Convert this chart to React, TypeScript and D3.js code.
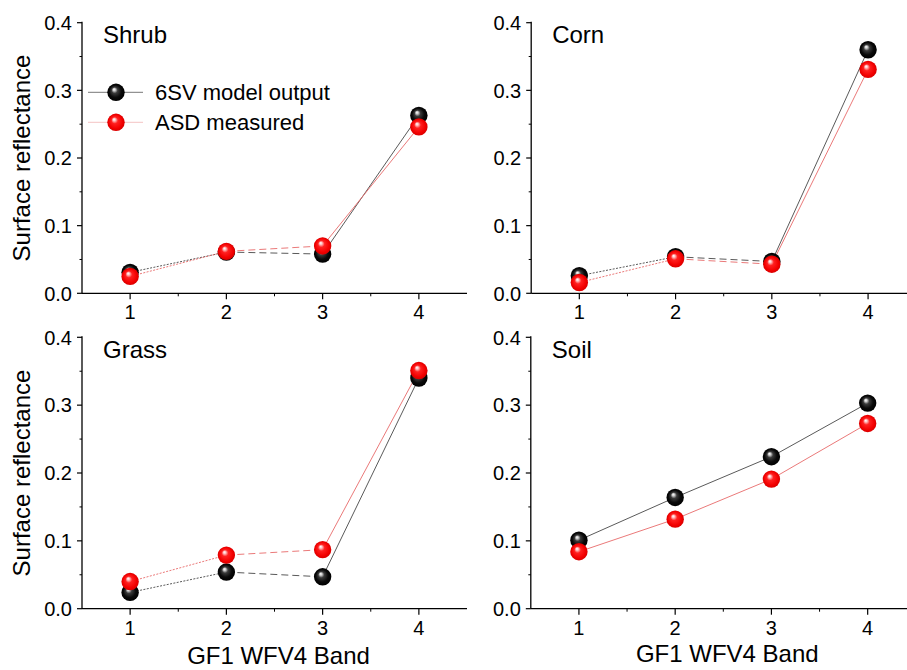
import React from "react";
import * as d3 from "d3";

// GF1 WFV4 band numbers
const bands = [1, 2, 3, 4];

// Surface reflectance per cover type: 6SV model output vs ASD field measurement
const shrubModel = [0.031, 0.061, 0.058, 0.263];
const shrubASD = [0.025, 0.062, 0.07, 0.246];
const cornModel = [0.026, 0.054, 0.047, 0.36];
const cornASD = [0.016, 0.051, 0.043, 0.331];
const grassModel = [0.024, 0.054, 0.047, 0.34];
const grassASD = [0.04, 0.079, 0.087, 0.351];
const soilModel = [0.101, 0.164, 0.224, 0.303];
const soilASD = [0.084, 0.132, 0.191, 0.273];

const yTicks = [0, 0.1, 0.2, 0.3, 0.4];
const yMinorTicks = [0.05, 0.15, 0.25, 0.35];
const xMinorTicks = [1.5, 2.5, 3.5];

const seriesNames = ["6SV model output", "ASD measured"];

type Panel = {
  title: string;
  model: number[];
  asd: number[];
  left: number;
  top: number;
  bottom: number;
  segStyles: string[];
  yTitle: boolean;
  xTitleBaseline: number | null;
  legend: boolean;
};

const FONT = "'Liberation Sans', Arial, Helvetica, sans-serif";
const BLACK_LINE = "#5a5a5a";
const RED_LINE = "#e86a6a";
const R = 8.7;
const UNIT = 96.25; // px per band step

const dashFor = (s: string) =>
  s === "dotted" ? "2,1.4" : s === "dashed" ? "7,4" : undefined;

const panels: Panel[] = [
  { title: "Shrub", model: shrubModel, asd: shrubASD, left: 82, top: 22.7, bottom: 293.3, segStyles: ["dotted", "dashed", "solid"], yTitle: true, xTitleBaseline: null, legend: true },
  { title: "Corn", model: cornModel, asd: cornASD, left: 531.2, top: 22.7, bottom: 293.3, segStyles: ["dotted", "dashed", "solid"], yTitle: false, xTitleBaseline: null, legend: false },
  { title: "Grass", model: grassModel, asd: grassASD, left: 82, top: 337.3, bottom: 608.7, segStyles: ["dotted", "dashed", "solid"], yTitle: true, xTitleBaseline: 664, legend: false },
  { title: "Soil", model: soilModel, asd: soilASD, left: 530.8, top: 337.3, bottom: 608.7, segStyles: ["solid", "solid", "solid"], yTitle: false, xTitleBaseline: 662, legend: false },
];

function Ball({ cx, cy, fill }: { cx: number; cy: number; fill: string }) {
  return <circle cx={cx} cy={cy} r={R} fill={`url(#${fill})`} />;
}

function PanelView({ p }: { p: Panel }) {
  const x = d3.scaleLinear().domain([0.5, 4.5]).range([p.left, p.left + 4 * UNIT]);
  const y = d3.scaleLinear().domain([0, 0.4]).range([p.bottom, p.top]);
  const line = d3
    .line<[number, number]>()
    .x((d) => x(d[0]))
    .y((d) => y(d[1]));

  const segs = (vals: number[], color: string, width: number) =>
    bands.slice(0, -1).map((b, i) => (
      <path
        key={i}
        d={line([
          [b, vals[i]],
          [bands[i + 1], vals[i + 1]],
        ]) as string}
        fill="none"
        stroke={color}
        strokeWidth={width}
        strokeDasharray={dashFor(p.segStyles[i])}
      />
    ));

  const x0 = x.range()[0];
  const x1 = x.range()[1];
  const midY = (p.top + p.bottom) / 2;

  return (
    <g>
      {/* axes */}
      <line x1={x0} x2={x0} y1={y(0.4) - 1} y2={y(0)} stroke="#000" strokeWidth={1.3} />
      <line x1={x0} x2={x1} y1={y(0)} y2={y(0)} stroke="#000" strokeWidth={1.3} />
      {yTicks.map((t) => (
        <g key={t}>
          <line x1={x0 - 5} x2={x0} y1={y(t)} y2={y(t)} stroke="#000" strokeWidth={1.2} />
          <text x={x0 - 10} y={y(t)} dy="0.36em" textAnchor="end" fontSize={20} fontFamily={FONT}>
            {d3.format(".1f")(t)}
          </text>
        </g>
      ))}
      {yMinorTicks.map((t) => (
        <line key={t} x1={x0 - 2.5} x2={x0} y1={y(t)} y2={y(t)} stroke="#000" strokeWidth={1} />
      ))}
      {bands.map((b) => (
        <g key={b}>
          <line x1={x(b)} x2={x(b)} y1={y(0)} y2={y(0) + 6} stroke="#000" strokeWidth={1.2} />
          <text x={x(b)} y={y(0) + 26} textAnchor="middle" fontSize={20} fontFamily={FONT}>
            {b}
          </text>
        </g>
      ))}
      {xMinorTicks.map((t) => (
        <line key={t} x1={x(t)} x2={x(t)} y1={y(0)} y2={y(0) + 3} stroke="#000" strokeWidth={1} />
      ))}

      {/* panel title */}
      <text x={p.left + 21} y={p.top + 20.5} fontSize={24} fontFamily={FONT}>
        {p.title}
      </text>

      {p.yTitle && (
        <text
          transform={`translate(29.5, ${midY}) rotate(-90)`}
          textAnchor="middle"
          fontSize={24}
          fontFamily={FONT}
        >
          Surface reflectance
        </text>
      )}
      {p.xTitleBaseline !== null && (
        <text x={(x0 + x1) / 2 + 4} y={p.xTitleBaseline} textAnchor="middle" fontSize={24} fontFamily={FONT}>
          GF1 WFV4 Band
        </text>
      )}

      {/* connecting lines */}
      {segs(p.model, BLACK_LINE, 1)}
      {segs(p.asd, RED_LINE, 0.9)}

      {/* markers */}
      {bands.map((b, i) => (
        <Ball key={"m" + b} cx={x(b)} cy={y(p.model[i])} fill="ballBlack" />
      ))}
      {bands.map((b, i) => (
        <Ball key={"a" + b} cx={x(b)} cy={y(p.asd[i])} fill="ballRed" />
      ))}

      {p.legend && (
        <g fontFamily={FONT} fontSize={22}>
          <line x1={88} x2={143} y1={92.3} y2={92.3} stroke="#777" strokeWidth={1} />
          <Ball cx={116} cy={92.3} fill="ballBlack" />
          <text x={155} y={100}>{seriesNames[0]}</text>
          <line x1={88} x2={143} y1={122.3} y2={122.3} stroke="#f4c4c4" strokeWidth={1} />
          <Ball cx={116} cy={122.3} fill="ballRed" />
          <text x={155} y={130}>{seriesNames[1]}</text>
        </g>
      )}
    </g>
  );
}

export default function App() {
  return (
    <svg
      width={907}
      height={670}
      style={{ position: "absolute", left: 0, top: 0, background: "#fff" }}
    >
      <defs>
        <radialGradient id="ballBlack" cx="50%" cy="50%" r="50%" fx="38%" fy="32%">
          <stop offset="0%" stopColor="#ffffff" />
          <stop offset="14%" stopColor="#cfcfcf" />
          <stop offset="35%" stopColor="#3a3a3a" />
          <stop offset="70%" stopColor="#0a0a0a" />
          <stop offset="100%" stopColor="#000000" />
        </radialGradient>
        <radialGradient id="ballRed" cx="50%" cy="50%" r="50%" fx="38%" fy="32%">
          <stop offset="0%" stopColor="#ffffff" />
          <stop offset="14%" stopColor="#ffc8c8" />
          <stop offset="38%" stopColor="#ff2020" />
          <stop offset="80%" stopColor="#f20000" />
          <stop offset="100%" stopColor="#d80000" />
        </radialGradient>
      </defs>
      <rect width={907} height={670} fill="#fff" />
      {panels.map((p) => (
        <PanelView key={p.title} p={p} />
      ))}
    </svg>
  );
}
